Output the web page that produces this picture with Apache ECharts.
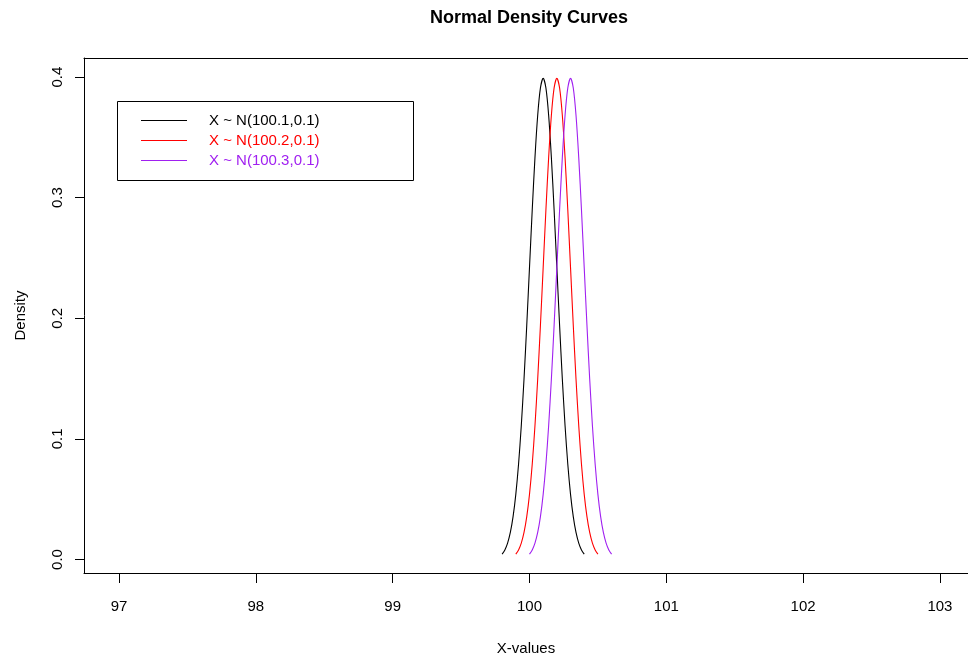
<!DOCTYPE html>
<html>
<head>
<meta charset="utf-8">
<script src="https://cdn.jsdelivr.net/npm/echarts@6/dist/echarts.min.js"></script>
<style>
html,body{margin:0;padding:0;background:#fff;}
#chart{width:968px;height:658px;}
</style>
</head>
<body>
<div id="chart"></div>
<script>
// ---- data ----
var titleText = 'Normal Density Curves';
var xAxisName = 'X-values';
var yAxisName = 'Density';
var seriesNames = ['X ~ N(100.1,0.1)', 'X ~ N(100.2,0.1)', 'X ~ N(100.3,0.1)'];
var seriesColors = ['#000000', '#ff0000', '#a020f0'];
var xTicks = [97, 98, 99, 100, 101, 102, 103];
var yTicks = [0.0, 0.1, 0.2, 0.3, 0.4];

var xBlack = [99.80,99.82,99.84,99.86,99.88,99.90,99.92,99.94,99.96,99.98,100.00,100.02,100.04,100.06,100.08,100.10,100.12,100.14,100.16,100.18,100.20,100.22,100.24,100.26,100.28,100.30,100.32,100.34,100.36,100.38,100.40];
var xRed = [99.90,99.92,99.94,99.96,99.98,100.00,100.02,100.04,100.06,100.08,100.10,100.12,100.14,100.16,100.18,100.20,100.22,100.24,100.26,100.28,100.30,100.32,100.34,100.36,100.38,100.40,100.42,100.44,100.46,100.48,100.50];
var xPurple = [100.00,100.02,100.04,100.06,100.08,100.10,100.12,100.14,100.16,100.18,100.20,100.22,100.24,100.26,100.28,100.30,100.32,100.34,100.36,100.38,100.40,100.42,100.44,100.46,100.48,100.50,100.52,100.54,100.56,100.58,100.60];
var yBlack = [0.0044,0.0079,0.0136,0.0224,0.0355,0.0540,0.0790,0.1109,0.1497,0.1942,0.2420,0.2897,0.3332,0.3683,0.3910,0.3989,0.3910,0.3683,0.3332,0.2897,0.2420,0.1942,0.1497,0.1109,0.0790,0.0540,0.0355,0.0224,0.0136,0.0079,0.0044];
var yRed = [0.0044,0.0079,0.0136,0.0224,0.0355,0.0540,0.0790,0.1109,0.1497,0.1942,0.2420,0.2897,0.3332,0.3683,0.3910,0.3989,0.3910,0.3683,0.3332,0.2897,0.2420,0.1942,0.1497,0.1109,0.0790,0.0540,0.0355,0.0224,0.0136,0.0079,0.0044];
var yPurple = [0.0044,0.0079,0.0136,0.0224,0.0355,0.0540,0.0790,0.1109,0.1497,0.1942,0.2420,0.2897,0.3332,0.3683,0.3910,0.3989,0.3910,0.3683,0.3332,0.2897,0.2420,0.1942,0.1497,0.1109,0.0790,0.0540,0.0355,0.0224,0.0136,0.0079,0.0044];

// ---- build ----
function pairs(xs, ys) { return xs.map(function (x, i) { return [x, ys[i]]; }); }
var allX = [xBlack, xRed, xPurple];
var allY = [yBlack, yRed, yPurple];
var FONT = '"Liberation Sans", Arial, sans-serif';

var series = seriesNames.map(function (name, i) {
  return {
    name: name,
    type: 'line',
    xAxisIndex: 0,
    yAxisIndex: 0,
    data: pairs(allX[i], allY[i]),
    showSymbol: false,
    symbol: 'none',
    smooth: 0.3,
    lineStyle: { color: seriesColors[i], width: 1.1 },
    itemStyle: { color: seriesColors[i] },
    silent: true,
    animation: false
  };
});

var chart = echarts.init(document.getElementById('chart'), null, { renderer: 'canvas' });
chart.setOption({
  animation: false,
  backgroundColor: '#ffffff',
  title: {
    text: titleText,
    left: 529, top: 9, padding: 0, textAlign: 'center',
    textStyle: { fontFamily: FONT, fontSize: 18, fontWeight: 'bold', color: '#000' }
  },
  grid: {
    left: 84, top: 58, right: 0, bottom: 85, show: false,
    containLabel: false, outerBoundsMode: 'none'
  },
  legend: {
    orient: 'vertical',
    left: 141, top: 113, padding: 0,
    icon: 'rect',
    itemWidth: 46, itemHeight: 1, itemGap: 5,
    data: seriesNames.map(function (n, i) {
      return { name: n, textStyle: { color: seriesColors[i] } };
    }),
    textStyle: { fontFamily: FONT, fontSize: 15, padding: [0, 0, 0, 17] },
    selectedMode: false
  },
  graphic: [{
    type: 'rect', left: 115, top: 99,
    shape: { width: 296, height: 79 },
    style: { fill: 'none', stroke: '#000', lineWidth: 1 }
  }],
  xAxis: [{
    type: 'value', min: 96.744, max: 103.205, position: 'bottom',
    name: xAxisName, nameLocation: 'middle', nameGap: 68,
    nameTextStyle: { fontFamily: FONT, fontSize: 15, color: '#000' },
    axisLine: { show: true, onZero: false, lineStyle: { color: '#000', width: 1 } },
    axisTick: { show: true, length: 10, customValues: xTicks, lineStyle: { color: '#000' } },
    axisLabel: { customValues: xTicks, margin: 26, fontFamily: FONT, fontSize: 15, color: '#000' },
    splitLine: { show: false }
  }, {
    type: 'value', min: 96.744, max: 103.205, position: 'top',
    axisLine: { show: true, onZero: false, lineStyle: { color: '#000', width: 1 } },
    axisTick: { show: false }, axisLabel: { show: false }, splitLine: { show: false }
  }],
  yAxis: {
    type: 'value', min: -0.0112, max: 0.4158,
    name: yAxisName, nameLocation: 'middle', nameGap: 56, nameRotate: 90,
    nameTextStyle: { fontFamily: FONT, fontSize: 15, color: '#000' },
    axisLine: { show: true, onZero: false, lineStyle: { color: '#000', width: 1 } },
    axisTick: { show: true, length: 9, customValues: yTicks, lineStyle: { color: '#000' } },
    axisLabel: {
      customValues: yTicks, rotate: 90, margin: 19, fontFamily: FONT, fontSize: 15, color: '#000',
      formatter: function (v) { return v.toFixed(1); }
    },
    splitLine: { show: false }
  },
  series: series
});
</script>
</body>
</html>
